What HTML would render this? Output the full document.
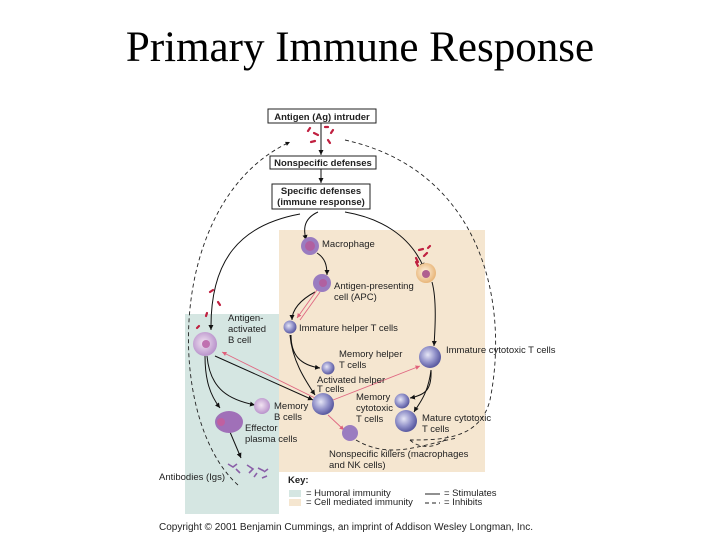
<!DOCTYPE html>
<html><head><style>
body{margin:0;width:720px;height:540px;background:#fff;overflow:hidden}
svg{display:block}
text{font-family:"Liberation Sans",sans-serif;font-size:9.5px;fill:#222}
</style></head><body>
<svg width="720" height="540" viewBox="0 0 720 540">
<defs>
<marker id="a" markerWidth="6" markerHeight="6" refX="5" refY="3" orient="auto"><path d="M0,0.5 L5,3 L0,5.5z" fill="#111"/></marker>
<marker id="p" markerWidth="6" markerHeight="6" refX="5" refY="3" orient="auto"><path d="M0,0.5 L5,3 L0,5.5z" fill="#e0607a"/></marker>
<radialGradient id="c" cx="0.4" cy="0.4" r="0.6"><stop offset="0" stop-color="#e6e6f6"/><stop offset="0.6" stop-color="#8f8fc8"/><stop offset="1" stop-color="#5a5aa0"/></radialGradient>
<radialGradient id="b" cx="0.45" cy="0.45" r="0.6"><stop offset="0" stop-color="#f2e4f2"/><stop offset="1" stop-color="#b48cc8"/></radialGradient>
<radialGradient id="o" cx="0.45" cy="0.45" r="0.6"><stop offset="0" stop-color="#fff3e0"/><stop offset="1" stop-color="#e6b070"/></radialGradient>
</defs>
<text x="360" y="61" text-anchor="middle" style="font-family:'Liberation Serif',serif;font-size:43px;fill:#000">Primary Immune Response</text>
<rect x="279" y="230" width="206" height="242" fill="#f5e6d0"/>
<rect x="185" y="314" width="94" height="200" fill="#d5e6e2"/>
<g stroke="#222" fill="#fff" stroke-width="1">
<rect x="268" y="109" width="108" height="14"/><rect x="270" y="156" width="106" height="13"/><rect x="272" y="184" width="98" height="25"/></g>
<g text-anchor="middle">
<text x="322" y="120" style="font-weight:bold">Antigen (Ag) intruder</text>
<text x="323" y="166" style="font-weight:bold">Nonspecific defenses</text>
<text x="321" y="194" style="font-weight:bold">Specific defenses</text>
<text x="321" y="205" style="font-weight:bold">(immune response)</text></g>
<g fill="none" stroke="#111" stroke-width="1">
<line x1="321" y1="123" x2="321" y2="155" marker-end="url(#a)"/>
<line x1="321" y1="169" x2="321" y2="183" marker-end="url(#a)"/>
<path d="M318,212 C300,220 305,235 306,240" marker-end="url(#a)"/>
<path d="M300,214 C240,225 210,260 211,330" marker-end="url(#a)"/>
<path d="M345,212 C380,218 410,235 424,268" marker-end="url(#a)"/>
<path d="M317,253 C325,258 327,265 327,275" marker-end="url(#a)"/>
<path d="M315,292 C300,300 292,310 292,320" marker-end="url(#a)"/>
<path d="M432,282 C437,300 435,330 434,346" marker-end="url(#a)"/>
<path d="M291,335 C291,355 300,365 320,368" marker-end="url(#a)"/>
<path d="M290,335 C292,360 305,380 315,395" marker-end="url(#a)"/>
<path d="M215,356 L313,400" marker-end="url(#a)"/>
<path d="M207,356 C210,390 230,400 255,405" marker-end="url(#a)"/>
<path d="M205,356 C205,380 210,395 220,408" marker-end="url(#a)"/>
<path d="M230,432 L241,458" marker-end="url(#a)"/>
<path d="M431,370 C432,390 425,395 410,398" marker-end="url(#a)"/>
<path d="M431,370 C428,395 418,405 414,412" marker-end="url(#a)"/>
</g>
<g fill="none" stroke="#222" stroke-width="0.9" stroke-dasharray="4,3">
<path d="M238,485 C165,420 165,200 290,142" marker-end="url(#a)"/>
<path d="M345,140 C480,170 510,300 490,400 C480,440 440,440 410,440" />
<path d="M356,440 C390,460 420,445 457,438"/>
<path d="M410,440 C420,450 440,448 448,436"/>
</g>
<g fill="none" stroke="#e06882" stroke-width="0.9">
<path d="M317,290 L297,318" marker-end="url(#p)"/><path d="M320,292 L300,320"/>
<path d="M315,398 L222,352" marker-end="url(#p)"/>
<path d="M333,400 L420,366" marker-end="url(#p)"/>
<path d="M328,415 L344,430" marker-end="url(#p)"/>
</g>
<g stroke="#c02040" stroke-width="2.2" stroke-linecap="round">
<line x1="308" y1="131" x2="310" y2="128"/><line x1="314" y1="133" x2="318" y2="135"/><line x1="325" y1="127" x2="328" y2="127"/><line x1="331" y1="133" x2="333" y2="130"/><line x1="311" y1="142" x2="315" y2="141"/><line x1="328" y1="140" x2="330" y2="143"/>
<line x1="419" y1="250" x2="423" y2="249"/><line x1="428" y1="248" x2="430" y2="246"/><line x1="416" y1="258" x2="418" y2="262"/><line x1="424" y1="256" x2="427" y2="253"/><line x1="418" y1="266" x2="416" y2="262"/>
<line x1="210" y1="292" x2="213" y2="290"/><line x1="218" y1="302" x2="220" y2="305"/><line x1="206" y1="316" x2="207" y2="313"/><line x1="197" y1="328" x2="199" y2="326"/>
</g>
<circle cx="310" cy="246" r="9" fill="#9a7cc0"/><circle cx="310" cy="246" r="5" fill="#b060a0"/>
<circle cx="322" cy="283" r="9" fill="#9a7cc0"/><circle cx="323" cy="283" r="4" fill="#b060a0"/>
<circle cx="426" cy="273" r="10" fill="url(#o)"/><circle cx="426" cy="274" r="4" fill="#b06090"/>
<circle cx="290" cy="327" r="6.5" fill="url(#c)"/>
<circle cx="328" cy="368" r="6.5" fill="url(#c)"/>
<circle cx="323" cy="404" r="11" fill="url(#c)"/>
<circle cx="430" cy="357" r="11" fill="url(#c)"/>
<circle cx="402" cy="401" r="7.5" fill="url(#c)"/>
<circle cx="406" cy="421" r="11" fill="url(#c)"/>
<circle cx="205" cy="344" r="12" fill="url(#b)"/><circle cx="206" cy="344" r="4" fill="#c070b0"/>
<circle cx="262" cy="406" r="8" fill="url(#b)"/>
<ellipse cx="229" cy="422" rx="14" ry="11" fill="#a070b8"/><circle cx="221" cy="422" r="4" fill="#c060a0"/>
<circle cx="350" cy="433" r="8" fill="#9a7cc0"/>
<g stroke="#8a5fa8" stroke-width="1.6" fill="none">
<path d="M228,464 l5,3 l4,-3 M236,469 l4,4 M247,465 l6,4 l-4,4 M258,468 l6,3 M264,472 l4,-3 M254,477 l3,-4 M262,478 l5,-2"/>
</g>
<text x="322" y="247">Macrophage</text>
<text x="334" y="289">Antigen-presenting</text><text x="334" y="300">cell (APC)</text>
<text x="299" y="331">Immature helper T cells</text>
<text x="228" y="321">Antigen-</text><text x="228" y="332">activated</text><text x="228" y="343">B cell</text>
<text x="339" y="357">Memory helper</text><text x="339" y="368">T cells</text>
<text x="317" y="383">Activated helper</text><text x="317" y="392">T cells</text>
<text x="446" y="353">Immature cytotoxic T cells</text>
<text x="356" y="400">Memory</text><text x="356" y="411">cytotoxic</text><text x="356" y="422">T cells</text>
<text x="422" y="421">Mature cytotoxic</text><text x="422" y="432">T cells</text>
<text x="274" y="409">Memory</text><text x="274" y="420">B cells</text>
<text x="245" y="431">Effector</text><text x="245" y="442">plasma cells</text>
<text x="329" y="457">Nonspecific killers (macrophages</text><text x="329" y="468">and NK cells)</text>
<text x="159" y="480">Antibodies (Igs)</text>
<text x="288" y="483" style="font-weight:bold">Key:</text>
<rect x="289" y="490" width="12" height="7" fill="#d5e6e2"/><rect x="289" y="499" width="12" height="7" fill="#f5e6d0"/>
<text x="306" y="496" style="font-size:9.5px">= Humoral immunity</text>
<text x="306" y="505" style="font-size:9.5px">= Cell mediated immunity</text>
<line x1="425" y1="494" x2="440" y2="494" stroke="#222"/>
<line x1="425" y1="503" x2="440" y2="503" stroke="#222" stroke-dasharray="4,3"/>
<text x="444" y="496" style="font-size:9.5px">= Stimulates</text><text x="444" y="505" style="font-size:9.5px">= Inhibits</text>
<text x="159" y="530" style="font-size:10px" textLength="374">Copyright © 2001 Benjamin Cummings, an imprint of Addison Wesley Longman, Inc.</text>
</svg>
</body></html>
